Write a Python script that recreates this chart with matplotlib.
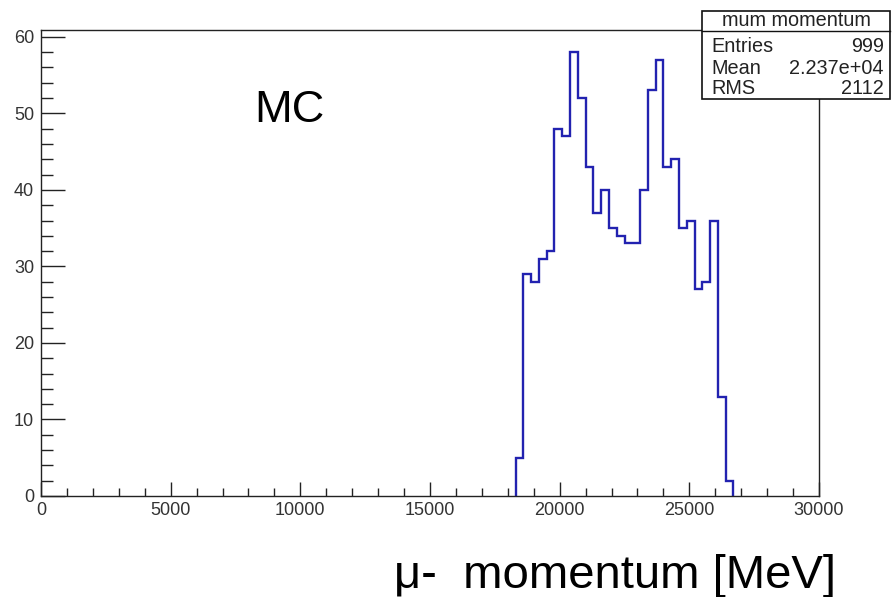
import numpy as np
import matplotlib
matplotlib.use("Agg")
import matplotlib.pyplot as plt
from matplotlib.patches import Rectangle
from matplotlib.lines import Line2D
from matplotlib.ticker import MultipleLocator

plt.rcParams['font.family'] = ['Liberation Sans', 'DejaVu Sans']

# ---- data ----
hist_title = "mum momentum"
bin_width = 300
first_edge = 18300
counts = [5, 29, 28, 31, 32, 48, 47, 58, 52, 43, 37, 40, 35, 34, 33, 33,
          40, 53, 57, 43, 44, 35, 36, 27, 28, 36, 13, 2]
stat_names = ["Entries", "Mean", "RMS"]
stat_values = ["999", "2.237e+04", "2112"]
x_range = (0, 30000)
y_max = 60.9
x_label = "\u03bc-  momentum [MeV]"
annotation = "MC"

edges = first_edge + bin_width * np.arange(len(counts) + 1)

W, H = 893, 597
fig = plt.figure(figsize=(W / 100, H / 100), dpi=100)
ax = fig.add_axes([41 / W, (H - 496) / H, (819 - 41) / W, (496 - 30) / H])

ax.stairs(counts, edges, baseline=0, color='#2222b0', linewidth=1.7)

ax.set_xlim(*x_range)
ax.set_ylim(0, y_max)
ax.xaxis.set_major_locator(MultipleLocator(5000))
ax.xaxis.set_minor_locator(MultipleLocator(1000))
ax.yaxis.set_major_locator(MultipleLocator(10))
ax.yaxis.set_minor_locator(MultipleLocator(2))
ax.tick_params(axis='x', which='major', direction='in', length=10, width=1, labelsize=13, pad=4)
ax.tick_params(axis='x', which='minor', direction='in', length=5.5, width=1)
ax.tick_params(axis='y', which='major', direction='in', length=17, width=1, labelsize=13, pad=5)
ax.tick_params(axis='y', which='minor', direction='in', length=8.5, width=1)
ax.tick_params(top=False, right=False, which='both', colors='#222222', labelcolor='#333333')
for s in ax.spines.values():
    s.set_linewidth(1.0)
    s.set_color('#222222')

# stats box
bx0, bx1, by0, by1 = 702, 890, 10.7, 99
fy = lambda y: (H - y) / H
fx = lambda x: x / W
fig.add_artist(Rectangle((fx(bx0), fy(by1)), fx(bx1) - fx(bx0), fy(by0) - fy(by1),
                         transform=fig.transFigure, facecolor='white',
                         edgecolor='#111111', linewidth=1.2, zorder=5))
fig.add_artist(Line2D([fx(bx0), fx(bx1)], [fy(30.5), fy(30.5)], transform=fig.transFigure,
                      color='#111111', linewidth=1.0, zorder=6))
fig.text(fx((bx0 + bx1) / 2), fy(20.5), hist_title, ha='center', va='center', fontsize=14.3,
         color='#222222', zorder=7)
for name, val, y in zip(stat_names, stat_values, [46.7, 68, 88.5]):
    fig.text(fx(711), fy(y), name, ha='left', va='center', fontsize=14.3, color='#222222', zorder=7)
    fig.text(fx(884), fy(y), val, ha='right', va='center', fontsize=14.3, color='#222222', zorder=7)

fig.text(fx(254), fy(121.5), annotation, ha='left', va='baseline', fontsize=32.5, color='black')
fig.text(fx(394), fy(588), x_label, ha='left', va='baseline', fontsize=34, color='black')

fig.savefig("out.png", dpi=100)
